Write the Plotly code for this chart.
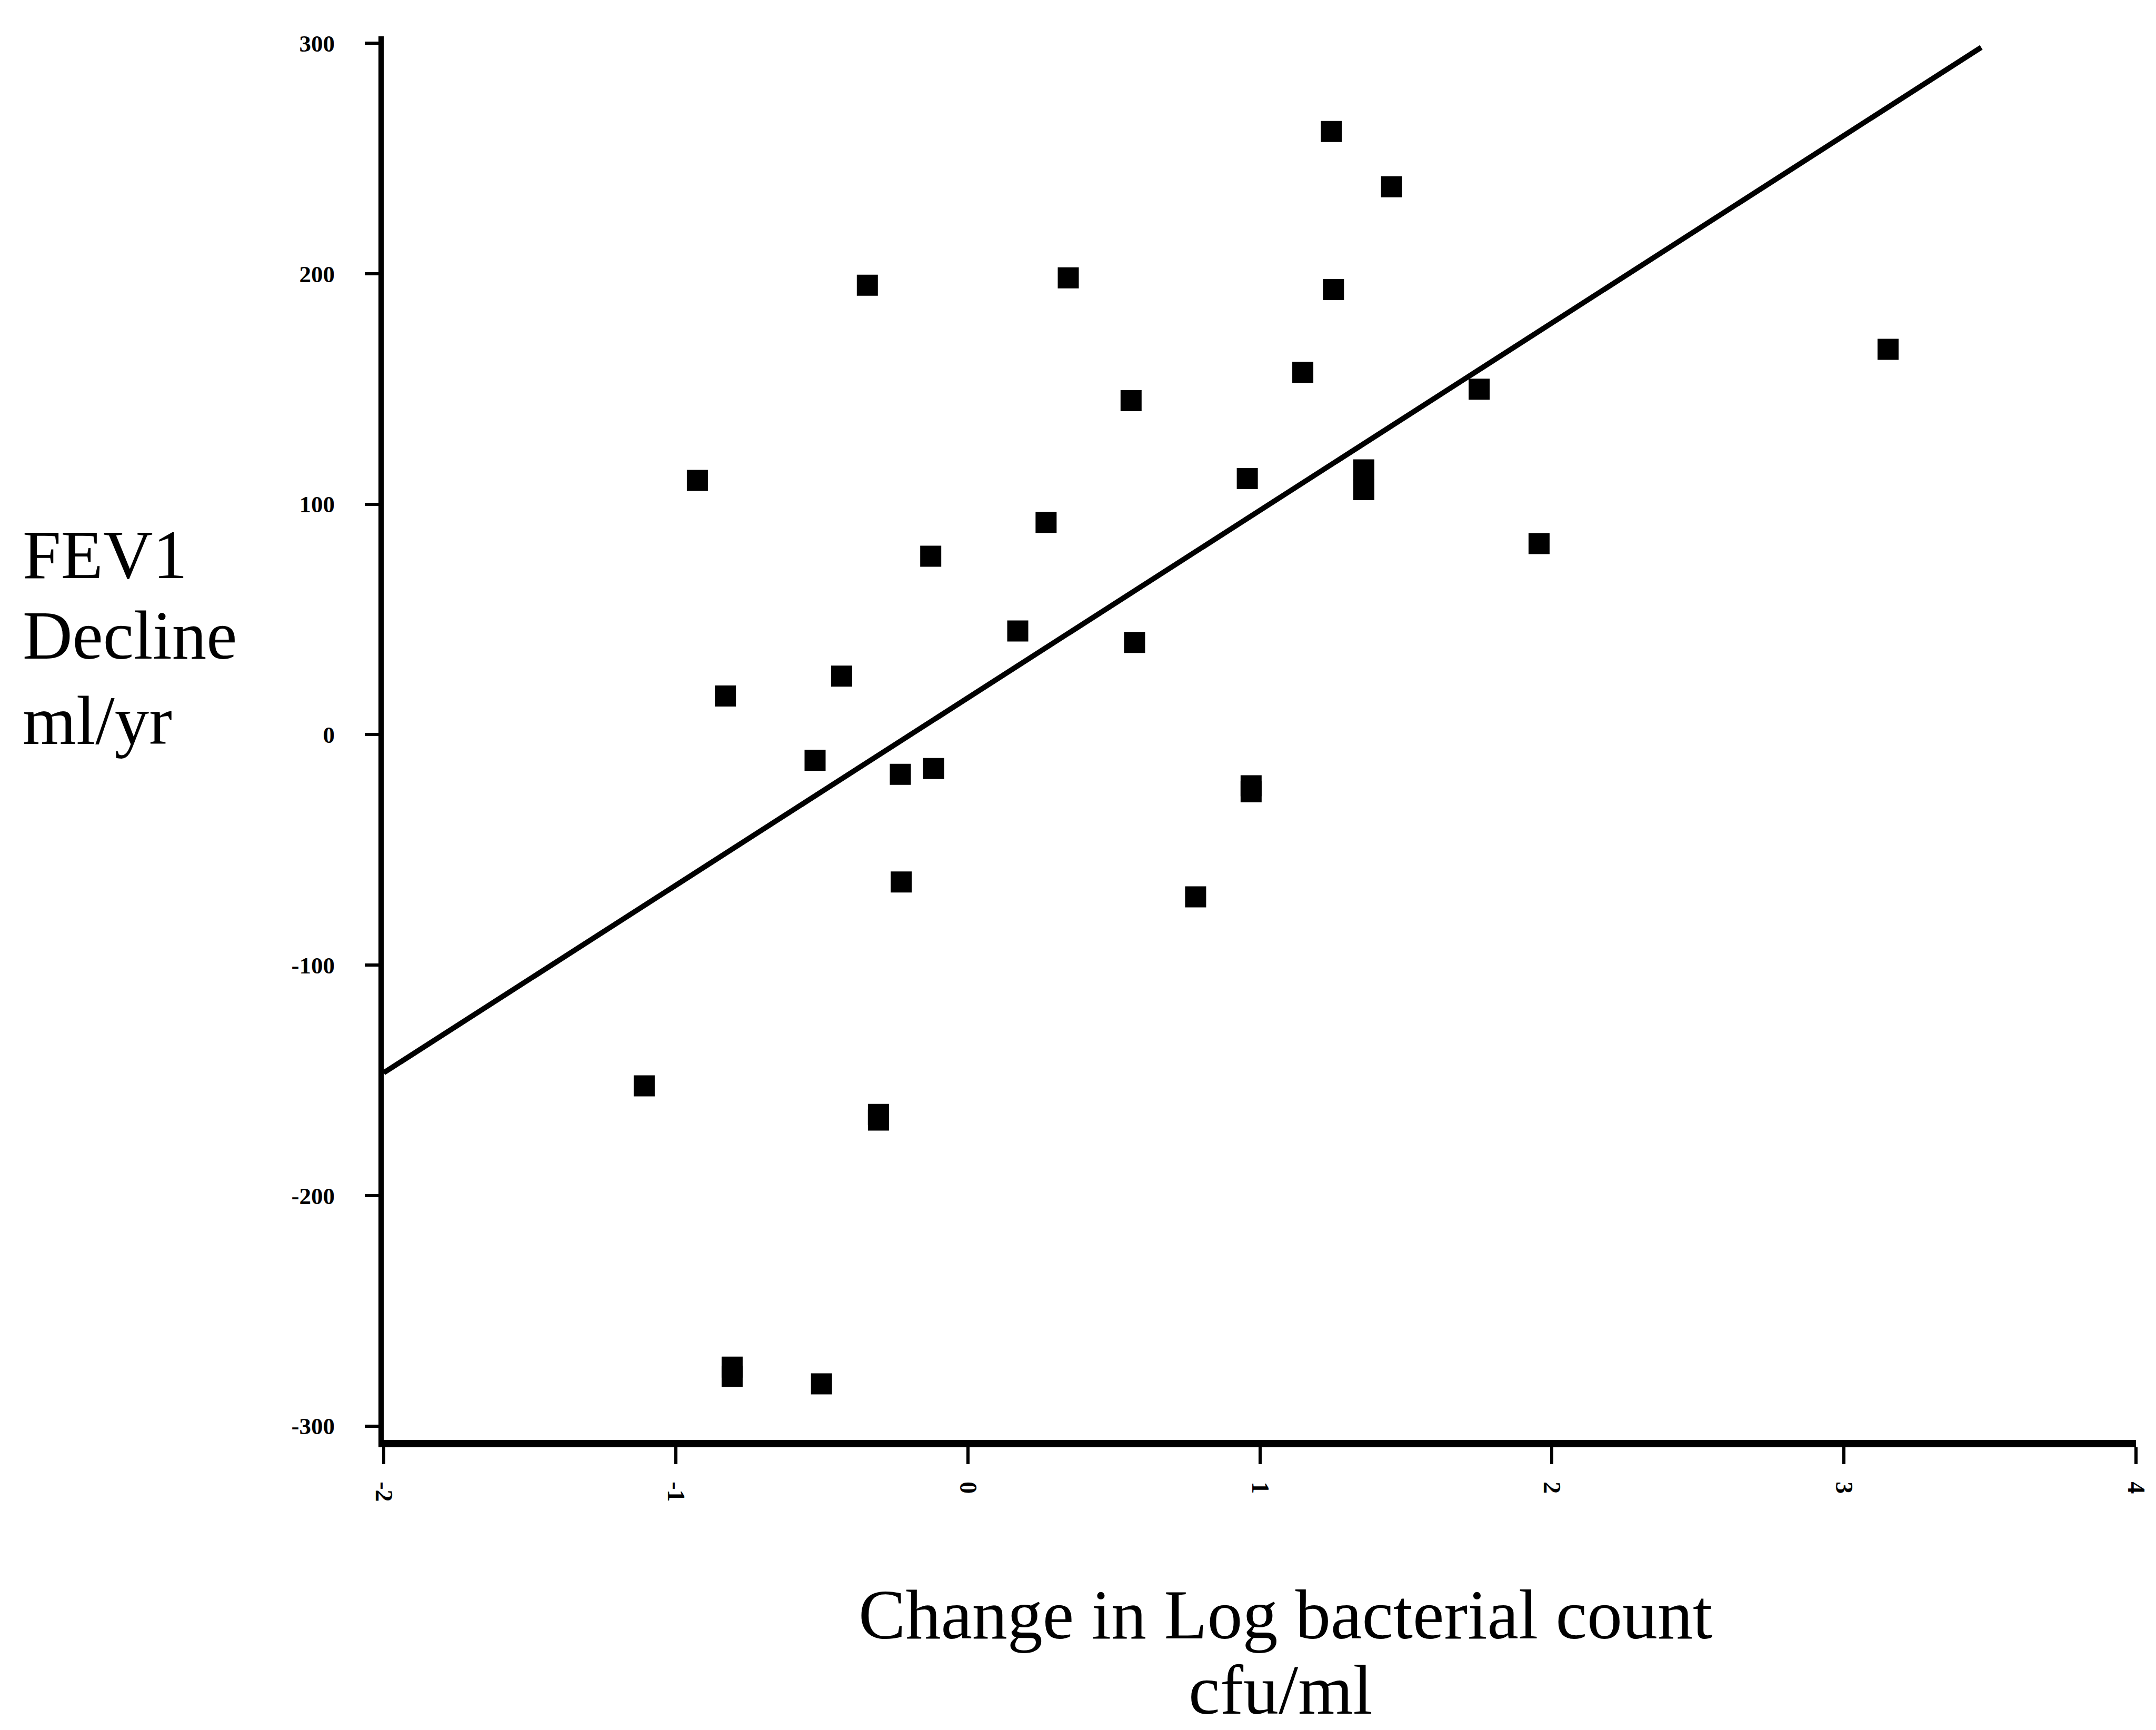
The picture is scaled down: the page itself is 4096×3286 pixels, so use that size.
import plotly.graph_objects as go

# ---- data ----
change_log_count = [-0.926, -0.830, -1.108, -0.807, -0.807, -0.523, -0.501, -0.432,
                    -0.344, -0.306, -0.306, -0.231, -0.228, -0.127, -0.117, 0.171,
                    0.268, 0.344, 0.559, 0.571, 0.780, 0.957, 0.970, 0.970,
                    1.147, 1.245, 1.252, 1.356, 1.356, 1.451, 1.751, 1.956, 3.151]
fev1_decline = [110.3, 16.8, -152.4, -274.4, -278.4, -11.1, -281.7, 25.4,
                195.0, -164.8, -167.2, -17.2, -63.9, 77.4, -14.7, 45.0,
                92.1, 198.2, 144.9, 40.0, -70.4, 111.1, -22.2, -24.8,
                157.2, 261.7, 193.1, 114.9, 106.3, 237.7, 149.9, 82.9, 167.2]
fit_x = [-2.0, 3.47]
fit_y = [-146.7, 298.2]

x_ticks = [-2, -1, 0, 1, 2, 3, 4]
x_ticktext = ["-2", "-1", "0", "1", "2", "3", "4"]
y_ticks = [300, 200, 100, 0, -100, -200, -300]
y_ticktext = ["300", "200", "100", "0", "-100", "-200", "-300"]

y_title_lines = ["FEV1", "Decline", "ml/yr"]
x_title_lines = ["Change in Log bacterial count", "cfu/ml"]

# ---- layout geometry (output pixels) ----
W, H = 4096, 3286
L, R, T, B = 729, 32, 69, 551
PW, PH = W - L - R, H - T - B


def px(xp):
    return (xp - L) / PW


def py(yp):
    return 1 - (yp - T) / PH


SERIF = "Liberation Serif, Times New Roman, serif"

fig = go.Figure()
fig.add_trace(go.Scatter(
    x=fit_x, y=fit_y, mode="lines",
    line=dict(color="black", width=10),
    showlegend=False, hoverinfo="skip"))
fig.add_trace(go.Scatter(
    x=change_log_count, y=fev1_decline, mode="markers",
    marker=dict(symbol="square", size=40, color="black", line=dict(width=0)),
    showlegend=False))

annotations = []
y_title_centers = [1053, 1206, 1368]
for txt, yc in zip(y_title_lines, y_title_centers):
    annotations.append(dict(
        text=txt, xref="paper", yref="paper", x=px(40), y=py(yc),
        xanchor="left", yanchor="middle", showarrow=False,
        font=dict(family=SERIF, size=131, color="black")))
x_title_pos = [(2445, 3067), (2436, 3210)]
for txt, (xc, yc) in zip(x_title_lines, x_title_pos):
    annotations.append(dict(
        text=txt, xref="paper", yref="paper", x=px(xc), y=py(yc),
        xanchor="center", yanchor="middle", showarrow=False,
        font=dict(family=SERIF, size=134, color="black")))

fig.update_layout(
    width=W, height=H,
    margin=dict(l=L, r=R, t=T, b=B, pad=0),
    paper_bgcolor="white", plot_bgcolor="white",
    annotations=annotations,
    xaxis=dict(
        range=[-2, 4], tickvals=x_ticks, ticktext=x_ticktext,
        showgrid=False, zeroline=False,
        showline=True, linecolor="black", linewidth=14,
        ticks="outside", ticklen=32, tickwidth=6, tickcolor="black",
        tickangle=90, ticklabelstandoff=24,
        tickfont=dict(family=SERIF, size=46, color="black", weight="bold")),
    yaxis=dict(
        range=[-306, 303], tickvals=y_ticks, ticktext=y_ticktext,
        showgrid=False, zeroline=False,
        showline=True, linecolor="black", linewidth=10,
        ticks="outside", ticklen=26, tickwidth=6, tickcolor="black",
        ticklabelstandoff=48,
        tickfont=dict(family=SERIF, size=45, color="black", weight="bold")),
)

fig.write_html("out.html")
